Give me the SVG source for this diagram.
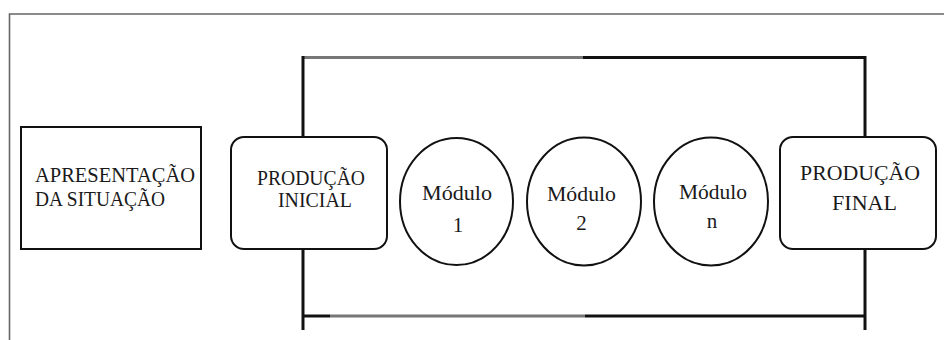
<svg xmlns="http://www.w3.org/2000/svg" width="944" height="340" viewBox="0 0 944 340">
<style>
.box{fill:#fff;stroke:#111;stroke-width:2}
.t{font-family:'Liberation Serif','DejaVu Serif','Noto Serif',serif;font-size:21px;fill:#1a1a1a}
.c{text-anchor:middle}
.ln{stroke:#111;stroke-width:3;fill:none}
.gl{stroke:#777;stroke-width:3;fill:none}
</style>
<rect x="0" y="0" width="944" height="340" fill="#fff"/>
<g id="frame">
<path d="M9.5 340 V14 H944" fill="none" stroke="#666" stroke-width="1.6"/>
</g>
<g id="connectors">
<path class="gl" d="M303 57.5 H583"/>
<path class="ln" d="M583 57.5 H865"/>
<path class="ln" d="M303 56 V137"/>
<path class="ln" d="M865 56 V137"/>
<path class="ln" d="M303 249 V330"/>
<path class="ln" d="M865 249 V330"/>
<path class="ln" d="M303 316 H330"/>
<path class="gl" d="M330 316 H585"/>
<path class="ln" d="M585 316 H865"/>
</g>
<g id="apresentacao">
<rect class="box" x="21" y="127" width="180" height="122"/>
<text class="t" x="35" y="182" textLength="160" lengthAdjust="spacingAndGlyphs">APRESENTAÇÃO</text>
<text class="t" x="35" y="205.5" textLength="130" lengthAdjust="spacingAndGlyphs">DA SITUAÇÃO</text>
</g>
<g id="producao-inicial">
<rect class="box" x="231" y="137" width="156" height="112" rx="13"/>
<text class="t" x="257" y="185" textLength="108" lengthAdjust="spacingAndGlyphs">PRODUÇÃO</text>
<text class="t" x="278" y="207" textLength="74" lengthAdjust="spacingAndGlyphs">INICIAL</text>
</g>
<g id="modulo-1">
<ellipse class="box" cx="456.5" cy="201.5" rx="56.5" ry="63.5"/>
<text class="t c" x="457" y="200" textLength="70" lengthAdjust="spacingAndGlyphs">Módulo</text>
<text class="t c" x="458" y="232">1</text>
</g>
<g id="modulo-2">
<ellipse class="box" cx="584" cy="201.5" rx="57" ry="64"/>
<text class="t c" x="581.5" y="201" textLength="69" lengthAdjust="spacingAndGlyphs">Módulo</text>
<text class="t c" x="581.5" y="230">2</text>
</g>
<g id="modulo-n">
<ellipse class="box" cx="711" cy="201.5" rx="57" ry="64"/>
<text class="t c" x="713" y="199" textLength="68" lengthAdjust="spacingAndGlyphs">Módulo</text>
<text class="t c" x="712" y="228">n</text>
</g>
<g id="producao-final">
<rect class="box" x="780" y="137" width="156" height="112" rx="13"/>
<text class="t" x="800" y="180" textLength="120" lengthAdjust="spacingAndGlyphs">PRODUÇÃO</text>
<text class="t" x="832" y="210" textLength="65" lengthAdjust="spacingAndGlyphs">FINAL</text>
</g>
</svg>
